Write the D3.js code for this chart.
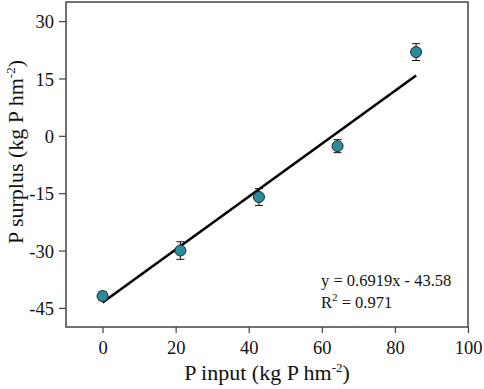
<!DOCTYPE html>
<html lang="en">
  <head>
    <meta charset="UTF-8" />
    <title>P surplus vs P input</title>
    <script src="https://d3js.org/d3.v7.min.js"></script>
    <style>
      body { margin: 0; background: #fff; }
      svg text { font-family: "Liberation Serif", "Times New Roman", serif; fill: #111; }
    </style>
  </head>
  <body>
    <div id="chart"></div>
    <script>
      // data
      const pInput = [0, 21.3, 42.8, 64.3, 85.8];
      const pSurplus = [-41.9, -30.0, -16.0, -2.7, 21.9];
      const errors = [1.2, 2.3, 2.2, 1.7, 2.2];
      const xTicks = [0, 20, 40, 60, 80, 100];
      const yTicks = [-45, -30, -15, 0, 15, 30];
      const slope = 0.6919;
      const intercept = -43.58;

      const width = 484;
      const height = 389;
      const margin = { top: 2, right: 16, bottom: 62, left: 66 };

      const svg = d3
        .select("#chart")
        .append("svg")
        .attr("width", width)
        .attr("height", height);

      const x = d3
        .scaleLinear()
        .domain([-10, 100])
        .range([margin.left, width - margin.right]);

      const y = d3
        .scaleLinear()
        .domain([-50, 35])
        .range([height - margin.bottom, margin.top]);

      // frame
      svg
        .append("rect")
        .attr("x", x(-10))
        .attr("y", y(35))
        .attr("width", x(100) - x(-10))
        .attr("height", y(-50) - y(35))
        .attr("fill", "none")
        .attr("stroke", "#444")
        .attr("stroke-width", 1.5);

      // axes (plain hyphen minus like the original)
      const fmt = (d) => String(d);
      const xAxis = svg
        .append("g")
        .attr("transform", `translate(0,${y(-50)})`)
        .call(d3.axisBottom(x).tickValues(xTicks).tickFormat(fmt).tickSize(6).tickPadding(8));

      const yAxis = svg
        .append("g")
        .attr("transform", `translate(${x(-10)},0)`)
        .call(d3.axisLeft(y).tickValues(yTicks).tickFormat(fmt).tickSize(7).tickPadding(5));

      [xAxis, yAxis].forEach((g) => {
        g.select(".domain").remove();
        g.selectAll(".tick line").attr("stroke", "#444").attr("stroke-width", 1.2);
        g.selectAll(".tick text")
          .attr("fill", "#111")
          .style("font-size", "18.5px")
          .style("font-family", '"Liberation Serif", serif');
      });
      yAxis.selectAll(".tick text").attr("dy", "0.36em");

      // regression line
      const fit = d3
        .line()
        .x((d) => x(d))
        .y((d) => y(slope * d + intercept));

      svg
        .append("path")
        .datum([pInput[0], pInput[pInput.length - 1]])
        .attr("d", fit)
        .attr("fill", "none")
        .attr("stroke", "#000")
        .attr("stroke-width", 2.6);

      // error bars
      const bars = svg
        .selectAll(".err")
        .data(pInput)
        .enter()
        .append("g")
        .attr("class", "err")
        .attr("stroke", "#111")
        .attr("stroke-width", 1);

      bars
        .append("line")
        .attr("x1", (d) => x(d))
        .attr("x2", (d) => x(d))
        .attr("y1", (d, i) => y(pSurplus[i] + errors[i]))
        .attr("y2", (d, i) => y(pSurplus[i] - errors[i]));

      [1, -1].forEach((s) => {
        bars
          .append("line")
          .attr("x1", (d) => x(d) - 4)
          .attr("x2", (d) => x(d) + 4)
          .attr("y1", (d, i) => y(pSurplus[i] + s * errors[i]))
          .attr("y2", (d, i) => y(pSurplus[i] + s * errors[i]));
      });

      // points
      svg
        .selectAll(".pt")
        .data(pInput)
        .enter()
        .append("circle")
        .attr("class", "pt")
        .attr("cx", (d) => x(d))
        .attr("cy", (d, i) => y(pSurplus[i]))
        .attr("r", 5.5)
        .attr("fill", "#2b8b98")
        .attr("stroke", "#1a2a2e")
        .attr("stroke-width", 1);

      // equation
      const eq = svg.append("g").style("font-size", "16.5px");
      eq.append("text")
        .attr("x", 321)
        .attr("y", 286)
        .text("y = 0.6919x - 43.58");
      const r2 = eq.append("text").attr("x", 321).attr("y", 308);
      r2.append("tspan").text("R");
      r2.append("tspan").attr("dy", -7).style("font-size", "11px").text("2");
      r2.append("tspan").attr("dy", 7).text(" = 0.971");

      // axis titles
      const xt = svg
        .append("text")
        .attr("x", 267)
        .attr("y", 380)
        .attr("text-anchor", "middle")
        .style("font-size", "22px");
      xt.append("tspan").text("P input (kg P hm");
      xt.append("tspan").attr("dy", -8).style("font-size", "13px").text("-2");
      xt.append("tspan").attr("dy", 8).text(")");

      const yt = svg
        .append("text")
        .attr("transform", `translate(23,152) rotate(-90)`)
        .attr("text-anchor", "middle")
        .style("font-size", "22px");
      yt.append("tspan").text("P surplus (kg P hm");
      yt.append("tspan").attr("dy", -8).style("font-size", "13px").text("-2");
      yt.append("tspan").attr("dy", 8).text(")");
    </script>
  </body>
</html>
